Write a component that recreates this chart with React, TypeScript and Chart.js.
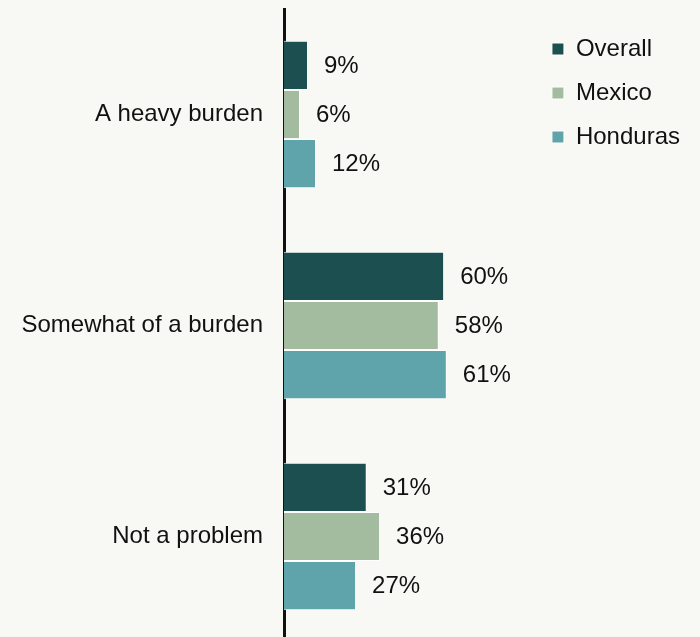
import React, { useEffect, useRef } from "react";
import { Chart, registerables } from "chart.js";

Chart.register(...registerables);

const categories = ["A heavy burden", "Somewhat of a burden", "Not a problem"];
const seriesNames = ["Overall", "Mexico", "Honduras"];
const overallValues = [9, 60, 31];
const mexicoValues = [6, 58, 36];
const hondurasValues = [12, 61, 27];
const seriesColors = ["#1b4f50", "#a3bb9e", "#5fa4aa"];

const FONT = "'Liberation Sans', Arial, Helvetica, sans-serif";
const BG = "#f8f8f4";

const valueLabels = {
  id: "valueLabels",
  afterDatasetsDraw(chart: any) {
    const ctx = chart.ctx;
    ctx.save();
    ctx.font = `24px ${FONT}`;
    ctx.fillStyle = "#111111";
    ctx.textAlign = "left";
    ctx.textBaseline = "middle";
    chart.data.datasets.forEach((ds: any, di: number) => {
      const meta = chart.getDatasetMeta(di);
      meta.data.forEach((el: any, i: number) => {
        ctx.fillText(`${ds.data[i]}%`, el.x + 16, el.y + 1);
      });
    });
    ctx.restore();
  },
};

export default function App() {
  const ref = useRef<HTMLCanvasElement | null>(null);
  useEffect(() => {
    if (!ref.current) return;
    const data = [overallValues, mexicoValues, hondurasValues];
    const chart = new Chart(ref.current, {
      type: "bar",
      data: {
        labels: categories,
        datasets: seriesNames.map((name, i) => ({
          label: name,
          data: data[i],
          backgroundColor: seriesColors[i],
          borderColor: "#ffffff",
          borderWidth: 1,
          barPercentage: 1,
          categoryPercentage: 0.7,
        })),
      },
      options: {
        indexAxis: "y",
        animation: false,
        responsive: true,
        maintainAspectRatio: false,
        layout: { padding: { top: 9, right: 10, bottom: 0, left: 0 } },
        scales: {
          x: {
            display: false,
            min: 0,
            max: 92.9,
          },
          y: {
            z: 1,
            grid: { display: false, drawTicks: false },
            border: { display: true, color: "#111111", width: 3 },
            ticks: {
              color: "#111111",
              font: { family: FONT, size: 24 },
              padding: 21,
            },
            afterFit: (scale: any) => {
              scale.width = 284;
              scale.paddingTop = 0;
              scale.paddingBottom = 0;
            },
          },
        },
        plugins: {
          legend: {
            position: "right",
            align: "start",
            title: { display: true, text: "", padding: 0, font: { size: 8, lineHeight: 1 } },
            labels: {
              boxWidth: 12,
              boxHeight: 12,
              padding: 20,
              color: "#111111",
              font: { family: FONT, size: 24 },
            },
          },
          tooltip: { enabled: false },
        },
      },
      plugins: [valueLabels],
    });
    return () => chart.destroy();
  }, []);
  return (
    <div style={{ position: "fixed", inset: 0, background: BG, overflow: "hidden" }}>
      <div style={{ position: "relative", width: 700, height: 642 }}>
        <canvas ref={ref} />
      </div>
    </div>
  );
}
